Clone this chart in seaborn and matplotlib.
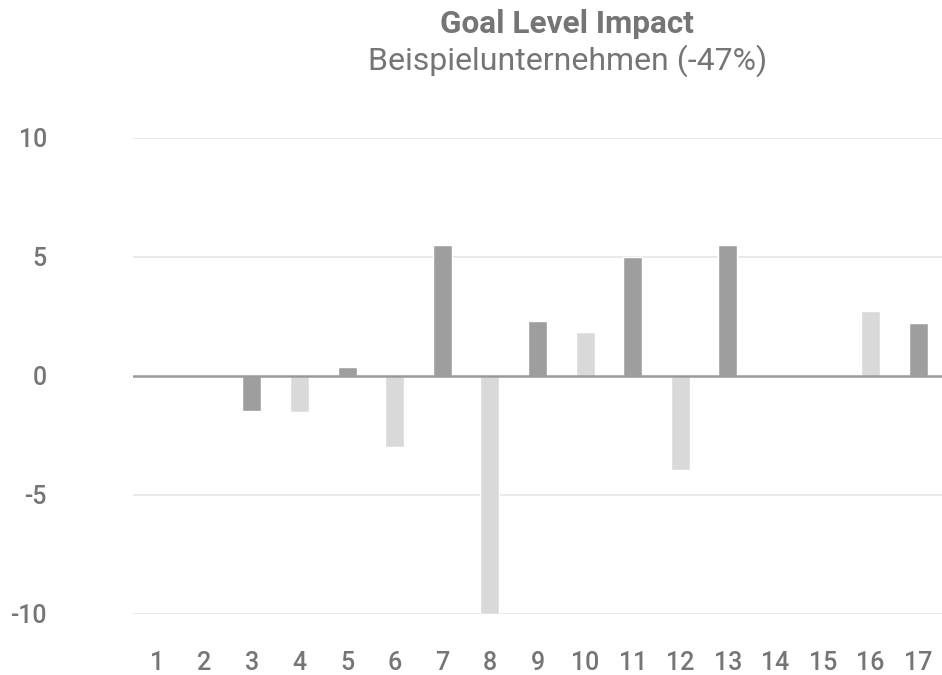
import matplotlib
matplotlib.use('Agg')
import matplotlib.pyplot as plt
import seaborn as sns
import pandas as pd

# --- Data ---
goals = [str(i) for i in range(1, 18)]
impact = [0, 0, -1.47, -1.52, 0.38, -3.0, 5.48, -10.0, 2.32, 1.84,
          5.0, -3.96, 5.48, 0, 0, 2.74, 2.22]
series = ["A", "B", "A", "B", "A", "B", "A", "B", "A", "B",
          "A", "B", "A", "B", "A", "B", "A"]
y_ticks = [-10, -5, 0, 5, 10]

title = "Goal Level Impact"
subtitle = "Beispielunternehmen (-47%)"

df = pd.DataFrame({"goal": goals, "impact": impact, "series": series})

# --- Style ---
sns.set_style("white")
plt.rcParams["font.family"] = ["Roboto", "DejaVu Sans"]
text_grey = "#757575"
palette = {"A": "#9e9e9e", "B": "#d9d9d9"}

fig = plt.figure(figsize=(9.42, 6.75), dpi=100)
ax = fig.add_axes([0.1412, 0.0908, 0.8588, 0.7048])

sns.barplot(data=df, x="goal", y="impact", hue="series", palette=palette,
            dodge=False, width=0.4, legend=False, ax=ax, saturation=1)

ax.set_ylim(-10, 10)
ax.set_xlim(-0.5, len(goals) - 0.5)
ax.set_yticks(y_ticks)
ax.set_yticklabels([str(t) for t in y_ticks])
for t in y_ticks:
    if t != 0:
        ax.axhline(t, color="#e6e6e6", lw=1.2, zorder=0)
ax.axhline(0, color="#999999", lw=1.8, zorder=3)

for s in ax.spines.values():
    s.set_visible(False)
ax.set_xlabel("")
ax.set_ylabel("")
ax.tick_params(axis="y", length=0, pad=62, labelsize=18, labelcolor=text_grey)
ax.tick_params(axis="x", length=0, pad=27, labelsize=18, labelcolor=text_grey)
for lbl in ax.get_xticklabels() + ax.get_yticklabels():
    lbl.set_fontweight("medium")

fig.text(0.602, 0.951, title, ha="center", va="baseline", fontsize=22.7,
         fontweight="bold", color=text_grey)
fig.text(0.602, 0.896, subtitle, ha="center", va="baseline", fontsize=23,
         fontweight="normal", color=text_grey)

fig.savefig("out.png", dpi=100)
